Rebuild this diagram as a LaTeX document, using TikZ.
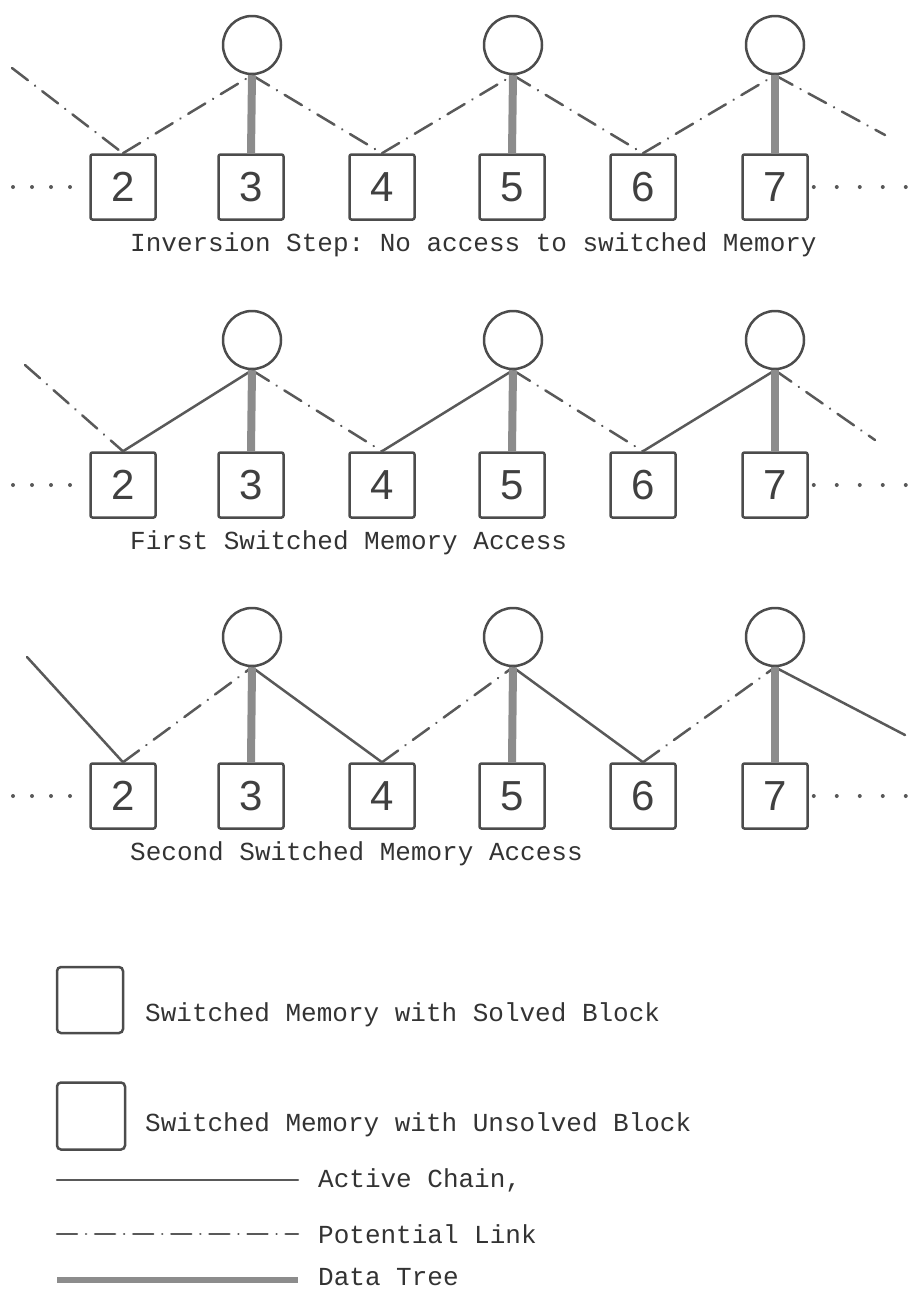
\documentclass[tikz,border=0pt]{standalone}
\usepackage{fontspec}
\setmonofont{Liberation Mono}
\newfontfamily\digitfont{Liberation Sans}
\usetikzlibrary{positioning}

\begin{document}
\begin{tikzpicture}[x=1pt,y=-1pt]
% Define styles
\tikzstyle{memory} = [rectangle, rounded corners=2pt, draw=black!70, line width=2.5pt, minimum width=65pt, minimum height=65pt, inner sep=0pt, text=black!75, font=\digitfont\fontsize{42}{42}\selectfont]
\tikzstyle{root} = [circle, draw=black!70, line width=2.5pt, minimum size=58pt, inner sep=0pt]
\tikzstyle{chain} = [draw=black!65, line width=2.5pt, line cap=round]
\tikzstyle{potential} = [chain, dash pattern=on 20pt off 9pt on 0.1pt off 9pt]
\tikzstyle{datatree} = [draw=black!45, line width=8pt]
\tikzstyle{dotrow} = [draw=black!65, line width=4pt, line cap=round, dash pattern=on 0pt off 19pt]
\tikzstyle{caption} = [anchor=west, inner sep=0pt, text=black!80, font=\ttfamily\fontsize{26}{30}\selectfont]

\useasboundingbox (0,0) rectangle (913,1294);

% Three panels
\foreach \p/\cy/\by/\sa/\sb/\lx/\ly/\rx/\ry/\txt in {
  1/45/187/potential/potential/12/68/885/135/{Inversion Step: No access to switched Memory},
  2/340/485/potential/chain/25/365/875/440/{First Switched Memory Access},
  3/637/796/chain/potential/27/657/905/735/{Second Switched Memory Access}} {
  % Draw nodes
  \foreach \n/\x in {2/123,3/251,4/382,5/512,6/643,7/775}
    \node (m\p-\n) [memory] at (\x,\by) {\n};
  \node (r\p-3) [root] at (252,\cy) {};
  \node (r\p-5) [root] at (513,\cy) {};
  \node (r\p-7) [root] at (775,\cy) {};
  \node (cap\p) [caption] at (130,\by+58) {\txt};
  \coordinate (lend\p) at (\lx,\ly);
  \coordinate (rend\p) at (\rx,\ry);
  \coordinate (ldots\p) at (13,\by);
  \coordinate (rdots\p) at (910,\by);

  % Draw links
  \draw [\sa] (lend\p) -- (m\p-2.north);
  \draw [\sb] (m\p-2.north) -- (r\p-3.south);
  \draw [\sa] (r\p-3.south) -- (m\p-4.north);
  \draw [\sb] (m\p-4.north) -- (r\p-5.south);
  \draw [\sa] (r\p-5.south) -- (m\p-6.north);
  \draw [\sb] (m\p-6.north) -- (r\p-7.south);
  \draw [\sa] (r\p-7.south) -- (rend\p);
  \foreach \n in {3,5,7}
    \draw [datatree] (r\p-\n.south) -- (m\p-\n.north);
  \draw [dotrow] (ldots\p) -- ([xshift=-18pt]m\p-2.west);
  \draw [dotrow, dash pattern=on 0pt off 23pt] ([xshift=5pt]m\p-7.east) -- (rdots\p);
}

% Legend
\node (solved) [memory, rounded corners=4pt, minimum width=66pt, minimum height=66pt] at (90,1000) {};
\node (unsolved) [memory, rounded corners=4pt, minimum width=68pt, minimum height=67pt] at (91,1116) {};
\node (solvedtxt) [caption] at (145,1015) {Switched Memory with Solved Block};
\node (unsolvedtxt) [caption] at (145,1125) {Switched Memory with Unsolved Block};
\node (activetxt) [caption] at (318,1180) {Active Chain,};
\node (potentialtxt) [caption] at (318,1234) {Potential Link};
\node (treetxt) [caption] at (318,1277) {Data Tree};
\coordinate (active) at (57,1180);
\coordinate (potential) at (57,1234);
\coordinate (tree) at (57,1280);
\draw [chain] (active) -- ([xshift=-20pt]activetxt.west);
\draw [potential] (potential) -- ([xshift=-20pt]potentialtxt.west);
\draw [datatree, line width=6pt] (tree) -- ([xshift=-20pt]treetxt.west |- tree);
\end{tikzpicture}
\end{document}
